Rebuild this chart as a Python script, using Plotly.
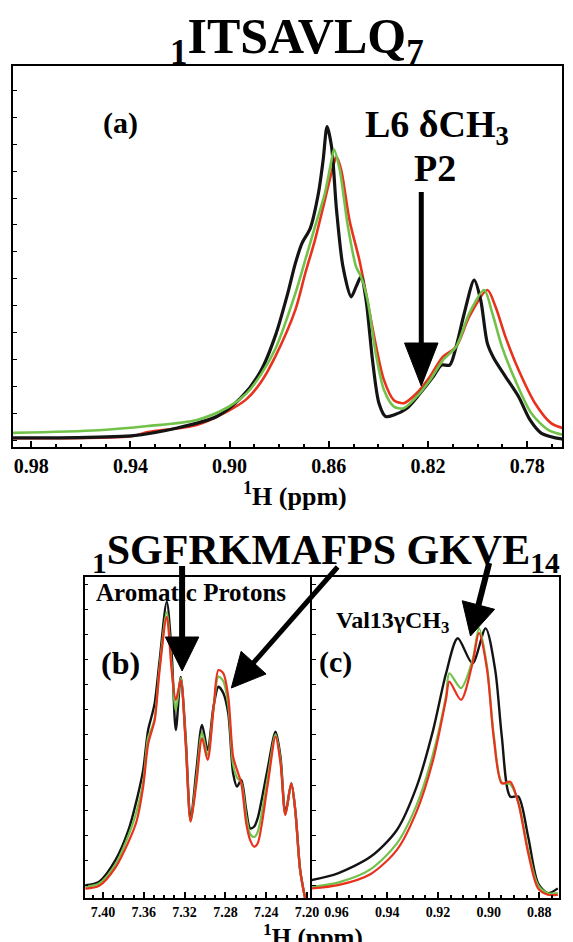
import math
import plotly.graph_objects as go

# ---------------- data ----------------
# (a) ITSAVLQ, L6 delta-CH3 region (ppm, relative intensity)
a_black_ppm = [0.9874, 0.9687, 0.9529, 0.9398, 0.9211, 0.9052, 0.8953, 0.8874, 0.8814, 0.8767,
               0.8735, 0.8708, 0.8675, 0.8642, 0.8623, 0.8607, 0.8589, 0.8569, 0.8543, 0.8510,
               0.8490, 0.8470, 0.8450, 0.8424, 0.8398, 0.8371, 0.8338, 0.8285, 0.8232, 0.8179,
               0.8146, 0.8113, 0.8087, 0.8054, 0.8014, 0.7988, 0.7961, 0.7935, 0.7888, 0.7835,
               0.7789, 0.7743, 0.7652]
a_black_int = [2.4, 2.4, 2.6, 2.9, 5.0, 8.0, 13.0, 20.0, 29.5, 40.0,
               48.2, 53.5, 57.4, 66.6, 75.3, 84.1, 78.8, 62.2, 47.3, 39.4,
               42.1, 44.7, 38.6, 22.8, 11.5, 8.0, 8.4, 10.2, 14.1, 18.5,
               21.5, 21.5, 26.3, 35.1, 43.8, 38.6, 27.2, 23.3, 18.5, 13.2,
               7.1, 3.6, 2.0]

a_green_ppm = [0.9874, 0.9529, 0.9330, 0.9132, 0.9005, 0.8933, 0.8874, 0.8814, 0.8735, 0.8695,
               0.8656, 0.8616, 0.8589, 0.8579, 0.8556, 0.8523, 0.8490, 0.8470, 0.8444, 0.8411,
               0.8378, 0.8338, 0.8298, 0.8246, 0.8192, 0.8140, 0.8087, 0.8034, 0.7974, 0.7941,
               0.7902, 0.7849, 0.7783, 0.7716, 0.7652]
a_green_int = [3.7, 4.4, 5.5, 7.1, 10.5, 14.0, 19.0, 26.0, 40.3, 49.1,
               57.8, 66.6, 75.3, 78.1, 72.7, 57.8, 47.3, 44.7, 38.6, 24.6,
               15.0, 10.6, 10.2, 13.2, 17.6, 22.8, 26.3, 35.1, 41.2, 35.1,
               26.3, 17.6, 8.8, 4.5, 3.1]

a_red_ppm = [0.9874, 0.9398, 0.9330, 0.9132, 0.9005, 0.8933, 0.8874, 0.8814, 0.8735, 0.8695,
             0.8656, 0.8616, 0.8583, 0.8569, 0.8550, 0.8517, 0.8477, 0.8450, 0.8417, 0.8378,
             0.8338, 0.8298, 0.8246, 0.8192, 0.8140, 0.8087, 0.8034, 0.7961, 0.7928, 0.7888,
             0.7835, 0.7769, 0.7703, 0.7652]
a_red_int = [2.3, 2.8, 3.9, 5.8, 9.5, 12.5, 17.0, 24.0, 36.0, 45.6,
             54.3, 64.8, 73.6, 76.2, 72.7, 59.6, 49.1, 40.3, 28.9, 17.6,
             12.3, 11.5, 14.1, 18.5, 23.7, 26.3, 34.2, 41.2, 36.8, 28.9,
             20.2, 11.5, 6.2, 4.9]

# (b) aromatic protons
b_ppm = [7.4173, 7.4038, 7.3878, 7.3750, 7.3670, 7.3606, 7.3558, 7.3520, 7.3493, 7.3445,
         7.3375, 7.3327, 7.3286, 7.3238, 7.3190, 7.3141, 7.3084, 7.3029, 7.2974, 7.2917,
         7.2868, 7.2820, 7.2772, 7.2724, 7.2686, 7.2644, 7.2596, 7.2558, 7.2519, 7.2484,
         7.2388, 7.2308, 7.2260, 7.2212, 7.2154, 7.2115, 7.2067, 7.2019]
b_black = [4.0, 5.1, 11.8, 21.2, 30.5, 39.9, 52.3, 57.0, 60.7, 74.0,
           92.3, 76.2, 52.3, 68.9, 50.3, 24.3, 39.9, 53.9, 46.1, 59.6,
           65.8, 63.8, 57.5, 38.8, 34.7, 36.8, 27.4, 21.7, 22.2, 24.8,
           39.9, 51.8, 44.0, 26.4, 35.7, 27.4, 8.7, 0.0]
b_green = [3.5, 4.5, 10.5, 19.5, 27.0, 36.0, 50.0, 53.0, 56.0, 72.0,
           89.0, 72.5, 58.5, 68.5, 49.0, 24.0, 37.5, 51.5, 44.5, 59.0,
           69.0, 67.5, 60.0, 41.5, 37.5, 36.0, 25.5, 20.0, 19.0, 20.5,
           37.0, 51.0, 43.0, 26.0, 35.7, 27.4, 8.7, 0.0]
b_red = [2.9, 3.8, 9.5, 17.5, 24.0, 34.7, 47.9, 52.3, 55.4, 71.0,
         87.6, 71.0, 61.7, 67.9, 48.3, 23.8, 35.8, 49.7, 43.0, 58.6,
         71.0, 70.0, 62.7, 44.0, 39.9, 35.7, 23.3, 18.1, 16.0, 17.0,
         34.7, 50.3, 42.0, 25.9, 35.7, 27.4, 8.7, 0.0]

# (c) Val13 gamma-CH3
c_black_ppm = [0.9698, 0.9595, 0.9465, 0.9362, 0.9284, 0.9219, 0.9168, 0.9122, 0.9064, 0.9012,
               0.8974, 0.8948, 0.8915, 0.8883, 0.8844, 0.8805, 0.8766, 0.8727]
c_black_int = [5.6, 7.7, 12.9, 21.2, 34.7, 52.3, 70.0, 80.9, 73.1, 84.0,
               71.0, 50.3, 31.6, 31.6, 19.1, 4.6, 1.5, 3.0]

c_col_ppm = [0.9698, 0.9595, 0.9465, 0.9362, 0.9284, 0.9219, 0.9168, 0.9155, 0.9109, 0.9064,
             0.9038, 0.9006, 0.8980, 0.8948, 0.8915, 0.8883, 0.8844, 0.8805, 0.8766, 0.8727]
c_green_int = [3.5, 4.8, 9.0, 17.0, 29.0, 45.0, 63.0, 70.0, 65.4, 74.0,
               84.0, 72.0, 51.0, 36.0, 35.5, 30.0, 15.0, 4.0, 1.5, 1.5]
c_red_int = [3.0, 4.0, 7.5, 15.0, 27.0, 43.0, 62.0, 67.4, 61.7, 73.0,
             82.5, 71.0, 50.0, 35.7, 36.2, 29.6, 14.0, 3.0, 1.0, 1.0]

a_ticks = [0.98, 0.94, 0.90, 0.86, 0.82, 0.78]
b_ticks = [7.40, 7.36, 7.32, 7.28, 7.24, 7.20]
c_ticks = [0.96, 0.94, 0.92, 0.90, 0.88]

# ---------------- figure ----------------
W, H = 573, 942
SERIF = "Liberation Serif, DejaVu Serif, serif"
BLACK = "#141414"
RED = "#e8321e"
GREEN = "#72c24a"


def px(x):
    return x / W


def py(y):
    return 1 - y / H


fig = go.Figure()


def curve(x, y, color, width, xa, ya):
    fig.add_trace(go.Scatter(
        x=x, y=y, mode="lines", xaxis=xa, yaxis=ya, showlegend=False,
        hoverinfo="skip",
        line=dict(color=color, width=width, shape="spline", smoothing=0.8),
    ))


curve(a_red_ppm, a_red_int, RED, 2.6, "x", "y")
curve(a_black_ppm, a_black_int, BLACK, 3.2, "x", "y")
curve(a_green_ppm, a_green_int, GREEN, 2.6, "x", "y")

curve(b_ppm, b_black, BLACK, 2.4, "x2", "y2")
curve(b_ppm, b_green, GREEN, 2.2, "x2", "y2")
curve(b_ppm, b_red, RED, 2.2, "x2", "y2")

curve(c_black_ppm, c_black_int, BLACK, 2.4, "x3", "y3")
curve(c_col_ppm, c_green_int, GREEN, 2.2, "x3", "y3")
curve(c_col_ppm, c_red_int, RED, 2.2, "x3", "y3")


def xax(domain, rng, ticks, anchor, fsize, lw, minor_dt):
    return dict(
        domain=domain, range=rng, anchor=anchor,
        tickmode="array", tickvals=ticks, ticktext=[f"{t:.2f}" for t in ticks],
        ticks="inside", ticklen=6, tickwidth=1.5, tickcolor="black",
        minor=dict(dtick=minor_dt, ticks="inside", ticklen=3, tickcolor="black"),
        showline=True, linecolor="black", linewidth=lw, mirror=True,
        showgrid=False, zeroline=False,
        tickfont=dict(family=SERIF, size=fsize, color="black", weight="bold"),
    )


def yax(domain, anchor, tick0, dtick, lw):
    return dict(
        domain=domain, range=[0, 100], anchor=anchor,
        showticklabels=False, ticks="inside", ticklen=4, tickcolor="black",
        tick0=tick0, dtick=dtick,
        showline=True, linecolor="black", linewidth=lw, mirror=True,
        showgrid=False, zeroline=False,
    )


fig.update_layout(
    width=W, height=H, margin=dict(l=0, r=0, t=0, b=0),
    paper_bgcolor="white", plot_bgcolor="white",
    font=dict(family=SERIF, color="black"),
    xaxis=xax([px(13), px(571)], [0.9874, 0.766], a_ticks, "y", 20, 2, 0.01),
    yaxis=yax([py(447), py(66)], "x", 8.85, 7.06, 2),
    xaxis2=xax([px(86), px(315)], [7.418, 7.197], b_ticks, "y2", 14, 1.6, 0.01),
    yaxis2=yax([py(898), py(577)], "x2", 4.0, 7.8, 1.6),
    xaxis3=xax([px(317), px(568)], [0.9697, 0.8722], c_ticks, "y3", 14, 1.6, 0.005),
    yaxis3=yax([py(898), py(577)], "x3", 4.0, 7.8, 1.6),
)


def label(text, x, y, size):
    fig.add_annotation(
        text=text, x=px(x), y=py(y), xref="paper", yref="paper",
        xanchor="center", yanchor="middle", showarrow=False,
        font=dict(family=SERIF, size=size, color="black", weight="bold"),
    )


label("<sub>1</sub>ITSAVLQ<sub>7</sub>", 302, 40, 50)
label("(a)", 122, 123, 30)
label("L6 δCH<sub>3</sub>", 444, 127, 38)
label("P2", 442, 168, 38)
label("<sup>1</sup>H (ppm)", 300, 494, 26)

label("<sub>1</sub>SGFRKMAFPS GKVE<sub>14</sub>", 331, 553, 42)
label("Aromatic Protons", 194, 592, 25)
label("(b)", 122, 663, 32)
label("(c)", 341, 662, 30)
label("Val13γCH<sub>3</sub>", 399, 622, 24)
label("<sup>1</sup>H (ppm)", 318, 935, 25)


def arrow(x0, y0, x1, y1, shaft, head_len, head_half):
    dx, dy = x1 - x0, y1 - y0
    n = math.hypot(dx, dy)
    ux, uy = dx / n, dy / n
    bx, by = x1 - ux * head_len, y1 - uy * head_len
    fig.add_shape(type="line", xref="paper", yref="paper",
                  x0=px(x0), y0=py(y0), x1=px(bx + ux * 2), y1=py(by + uy * 2),
                  line=dict(color="black", width=shaft))
    lx, ly = bx - uy * head_half, by + ux * head_half
    rx, ry = bx + uy * head_half, by - ux * head_half
    path = (f"M{px(lx)},{py(ly)} L{px(x1)},{py(y1)} "
            f"L{px(rx)},{py(ry)} Z")
    fig.add_shape(type="path", path=path, xref="paper", yref="paper",
                  fillcolor="black", line=dict(color="black", width=1))


arrow(428, 192, 428, 386, 5, 43, 17)
arrow(185, 566, 185, 671, 6, 34, 17)
arrow(343, 567, 235, 688, 5, 34, 17)
arrow(497, 563, 478, 636, 6, 32, 17)

fig.write_html("out.html")
